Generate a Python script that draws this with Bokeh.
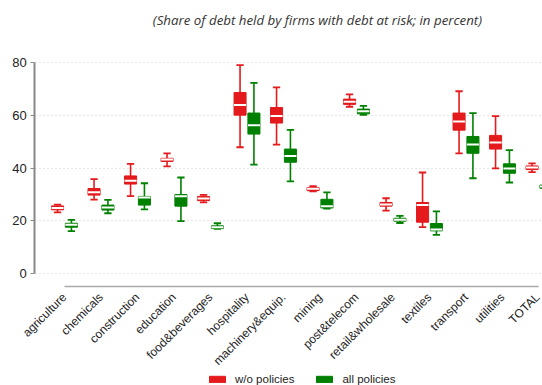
import math
from bokeh.plotting import figure
from bokeh.models import (ColumnDataSource, FixedTicker, Legend, LegendItem, Label)
from bokeh.embed import file_html
from bokeh.resources import INLINE

categories = ["agriculture", "chemicals", "construction", "education", "food&beverages",
              "hospitality", "machinery&equip.", "mining", "post&telecom", "retail&wholesale",
              "textiles", "transport", "utilities", "TOTAL"]

# w/o policies
wo_lo  = [23.1, 28.0, 29.3, 40.6, 26.9, 47.9, 48.9, 31.1, 63.3, 23.8, 17.5, 45.6, 39.9, 38.4]
wo_q1  = [24.1, 29.7, 33.9, 42.5, 27.6, 60.1, 57.1, 31.4, 64.2, 25.5, 19.4, 54.4, 47.2, 39.4]
wo_med = [24.8, 30.8, 35.2, 43.2, 28.4, 64.0, 59.8, 32.1, 65.2, 26.1, 25.9, 57.7, 49.7, 40.2]
wo_q3  = [25.6, 32.2, 37.0, 43.7, 29.2, 68.7, 63.0, 32.6, 66.2, 26.9, 26.9, 60.9, 52.4, 40.8]
wo_hi  = [26.1, 35.8, 41.6, 45.6, 29.8, 79.1, 70.7, 33.1, 68.0, 28.5, 38.3, 69.2, 59.7, 41.8]

# all policies
al_lo  = [16.0, 22.8, 24.3, 19.8, 16.9, 41.3, 34.9, 24.6, 60.2, 19.1, 14.6, 36.1, 34.5, 30.5]
al_q1  = [17.5, 24.0, 25.9, 25.5, 17.0, 52.9, 42.2, 24.8, 60.6, 19.8, 16.1, 45.6, 38.0, 32.3]
al_med = [18.4, 25.0, 28.8, 29.3, 17.5, 56.3, 44.6, 25.5, 61.6, 20.3, 16.6, 48.9, 39.8, 33.0]
al_q3  = [19.0, 25.9, 29.2, 29.9, 18.0, 60.9, 47.2, 28.1, 62.4, 20.9, 18.9, 52.0, 41.6, 33.5]
al_hi  = [20.3, 27.9, 34.2, 36.4, 19.0, 72.4, 54.5, 30.7, 63.6, 21.8, 23.5, 60.9, 46.8, 35.0]

y_ticks = [0, 20, 40, 60, 80]
title_text = "(Share of debt held by firms with debt at risk; in percent)"

RED = "#e41a1c"
GREEN = "#008000"

p = figure(width=542, height=385, output_backend="svg", toolbar_location=None,
           x_range=(-1.753, 13.096), y_range=(-42.7, 103.7),
           min_border_left=0, min_border_right=0, min_border_top=0,
           min_border_bottom=0, outline_line_color=None)
p.title.visible = False

box_w = 0.33
cap_w = 0.2
off = 0.19

renderers = []
for lo, q1, med, q3, hi, color, sign in [
        (wo_lo, wo_q1, wo_med, wo_q3, wo_hi, RED, -1),
        (al_lo, al_q1, al_med, al_q3, al_hi, GREEN, 1)]:
    xs = [i + sign * off for i in range(len(categories))]
    src = ColumnDataSource(dict(
        x=xs, lo=lo, q1=q1, med=med, q3=q3, hi=hi,
        xl=[x - box_w / 2 for x in xs], xr=[x + box_w / 2 for x in xs],
        cl=[x - cap_w / 2 for x in xs], cr=[x + cap_w / 2 for x in xs]))
    p.segment(x0="x", y0="lo", x1="x", y1="hi", source=src, line_color=color, line_width=1.6)
    p.segment(x0="cl", y0="hi", x1="cr", y1="hi", source=src, line_color=color, line_width=1.8)
    p.segment(x0="cl", y0="lo", x1="cr", y1="lo", source=src, line_color=color, line_width=1.8)
    r = p.vbar(x="x", width=box_w, bottom="q1", top="q3", source=src,
               fill_color=color, line_color=color, line_width=1)
    p.segment(x0="xl", y0="med", x1="xr", y1="med", source=src, line_color="white", line_width=2)
    renderers.append(r)

# title (drawn inside the frame area above the data)
p.add_layout(Label(x=6.93, y=96.1, text=title_text, text_align="center",
                   text_baseline="middle", text_font="Open Sans",
                   text_font_style="italic", text_font_size="13.3px",
                   text_color="#333333"))

# y axis (drawn at a fixed location inside the full-canvas frame)
p.yaxis.fixed_location = -0.814
p.yaxis.bounds = (0, 80)
p.yaxis.ticker = FixedTicker(ticks=y_ticks)
p.yaxis.axis_line_color = "#888888"
p.yaxis.axis_line_width = 2
p.yaxis.major_tick_line_color = "#888888"
p.yaxis.major_tick_in = 0
p.yaxis.major_tick_out = 4
p.yaxis.minor_tick_line_color = None
p.yaxis.major_label_text_font = "Liberation Sans"
p.yaxis.major_label_text_font_size = "13px"
p.yaxis.major_label_text_color = "#222222"
p.yaxis.major_label_standoff = 4

# x axis
p.xaxis.fixed_location = -4.9
p.xaxis.bounds = (0, len(categories) - 1)
p.xaxis.ticker = FixedTicker(ticks=list(range(len(categories))))
p.xaxis.major_label_overrides = {i: c for i, c in enumerate(categories)}
p.xaxis.major_label_orientation = math.pi / 4
p.xaxis.axis_line_color = "#aaaaaa"
p.xaxis.axis_line_width = 1.5
p.xaxis.major_tick_line_color = None
p.xaxis.minor_tick_line_color = None
p.xaxis.major_label_text_font = "Liberation Sans"
p.xaxis.major_label_text_font_size = "12px"
p.xaxis.major_label_text_color = "#222222"
p.xaxis.major_label_standoff = 3

p.xgrid.grid_line_color = None
p.ygrid.ticker = FixedTicker(ticks=y_ticks)
p.ygrid.cross_bounds = (-0.795, 13.096)
p.ygrid.grid_line_color = "#cccccc"
p.ygrid.grid_line_dash = "1 3"

legend = Legend(items=[LegendItem(label="w/o policies", renderers=[renderers[0]]),
                       LegendItem(label="all policies", renderers=[renderers[1]])],
                orientation="horizontal", location=(207, 0),
                glyph_width=20, glyph_height=8, label_text_font="Liberation Sans",
                label_text_font_size="11.5px", label_text_color="#222222",
                spacing=20, border_line_color=None, background_fill_alpha=0,
                padding=0, margin=0, label_standoff=8)
p.add_layout(legend, "center")

open("out.html", "w").write(file_html(p, INLINE))
